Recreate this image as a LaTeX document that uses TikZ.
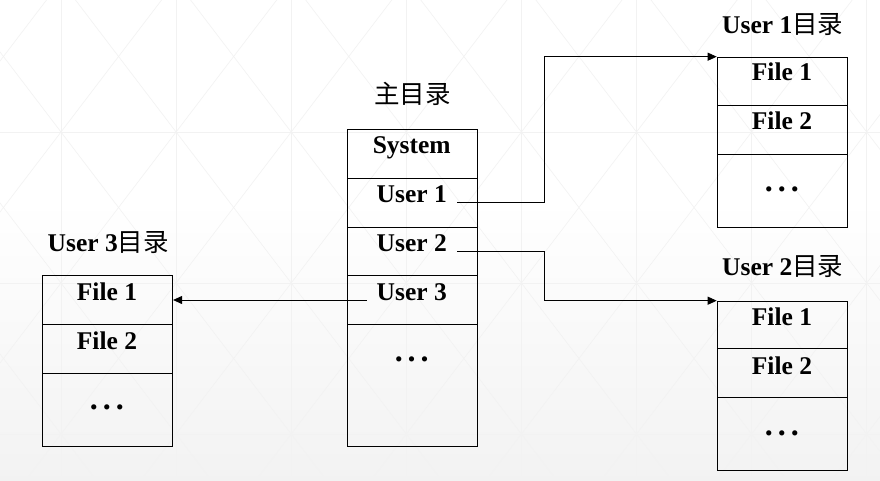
\documentclass[tikz,border=0pt]{standalone}
\usepackage{fontspec}
\setmainfont{Liberation Serif}
\newfontfamily\cjk{Noto Sans CJK SC}
\usetikzlibrary{arrows.meta}
\begin{document}
\begin{tikzpicture}[x=1pt,y=-1pt,
  cell/.style={draw=black, line width=0.9pt, rectangle, inner sep=0pt, minimum width=130.5pt, anchor=north west},
  txt/.style={font=\fontsize{25.5}{30}\selectfont\bfseries, anchor=base, inner sep=0pt},
  dotstxt/.style={font=\fontsize{32}{36}\selectfont\bfseries, anchor=base, inner sep=0pt},
  ttl/.style={font=\fontsize{25.5}{30}\selectfont, anchor=base west, inner sep=0pt},
  conn/.style={line width=0.9pt, draw=black},
  arr/.style={conn, -{Triangle[length=9pt,width=8pt]}},
  bgl/.style={draw=black!5, line width=0.6pt}]
\useasboundingbox (0,0) rectangle (880,481);
% background
\fill[white] (0,0) rectangle (880,481);
\shade[top color=white,bottom color=black!5] (0,200) rectangle (880,481);
\begin{scope}
\clip (0,0) rectangle (880,481);
\foreach \k in {0,...,7} \draw[bgl] (61+115.1*\k,0) -- (61+115.1*\k,481);
\foreach \yy in {-19,132,283,434} \draw[bgl] (0,\yy) -- (880,\yy);
\foreach \k in {-4,...,11} {
  \draw[bgl] (61+115.1*\k-115.1,-19) -- (61+115.1*\k+287.75,509.5);
  \draw[bgl] (61+115.1*\k+115.1,-19) -- (61+115.1*\k-287.75,509.5);
}
\end{scope}
% main directory
\node[cell, minimum height=49pt]   (m1) at (346.5,129.3) {};
\node[cell, minimum height=48.7pt] (m2) at (346.5,178.3) {};
\node[cell, minimum height=48.3pt] (m3) at (346.5,227) {};
\node[cell, minimum height=49pt]   (m4) at (346.5,275.3) {};
\node[cell, minimum height=121.7pt](m5) at (346.5,324.3) {};
\node[txt] (tsys) at (411.75,154) {System};
\node[txt] (tu1) at (411.75,202.7) {User 1};
\node[txt] (tu2) at (411.75,251.7) {User 2};
\node[txt] (tu3) at (411.75,300) {User 3};
\node[dotstxt] (tmd) at (411.75,361.5) {.\kern5pt.\kern5pt.};
\node[ttl, anchor=base] (tmain) at (412.5,103.5) {\cjk 主目录};
% user 3 directory
\node[cell, minimum height=49pt]   (l1) at (41.7,275.3) {};
\node[cell, minimum height=49pt]   (l2) at (41.7,324.3) {};
\node[cell, minimum height=72.7pt] (l3) at (41.7,373.3) {};
\node[txt] (tl1) at (106.95,300.8) {File 1};
\node[txt] (tl2) at (106.95,349.8) {File 2};
\node[dotstxt] (tld) at (106.95,409.5) {.\kern5pt.\kern5pt.};
\node[ttl] (ttl3) at (47.5,251.7) {\bfseries User 3{\cjk\mdseries 目录}};
% user 1 directory
\node[cell, minimum height=48.6pt] (a1) at (716.7,56.7) {};
\node[cell, minimum height=49pt]   (a2) at (716.7,105.3) {};
\node[cell, minimum height=73pt]   (a3) at (716.7,154.3) {};
\node[txt] (ta1) at (781.95,80.5) {File 1};
\node[txt] (ta2) at (781.95,129.5) {File 2};
\node[dotstxt] (tad) at (781.95,191) {.\kern5pt.\kern5pt.};
\node[ttl] (ttl1) at (722,33.3) {\bfseries User 1{\cjk\mdseries 目录}};
% user 2 directory
\node[cell, minimum height=47.6pt] (b1) at (716.7,300.7) {};
\node[cell, minimum height=49pt]   (b2) at (716.7,348.3) {};
\node[cell, minimum height=72.7pt] (b3) at (716.7,397.3) {};
\node[txt] (tb1) at (781.95,325) {File 1};
\node[txt] (tb2) at (781.95,374) {File 2};
\node[dotstxt] (tbd) at (781.95,435) {.\kern5pt.\kern5pt.};
\node[ttl] (ttl2) at (722,275) {\bfseries User 2{\cjk\mdseries 目录}};
% connectors
\coordinate (s1) at ([xshift=10pt]tu1.base east);
\coordinate (s2) at ([xshift=10pt]tu2.base east);
\coordinate (s3) at ([xshift=-10pt]tu3.base west);
\draw[arr] (s1) -- ++(87,0) |- (a1.north west);
\draw[arr] (s2) -- ++(87,0) |- (b1.north west);
\draw[arr] (s3) -- (s3 -| l1.east);
\end{tikzpicture}
\end{document}
